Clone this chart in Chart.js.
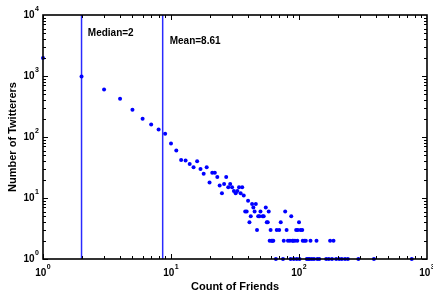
<!DOCTYPE html>
<html>
<head>
<meta charset="utf-8">
<script src="https://cdn.jsdelivr.net/npm/chart.js@4/dist/chart.umd.min.js"></script>
<style>
  html, body { margin: 0; padding: 0; background: #fff; }
  canvas { display: block; }
</style>
</head>
<body>
<canvas id="friendsChart" width="433" height="294"></canvas>
<script>
// Data
const friends = [1, 2, 3, 4, 5, 6, 7, 8, 9, 10, 11, 12, 13, 14, 15, 16, 17, 18, 19, 20, 21, 22, 23, 24,
    25, 26, 27, 28, 29, 30, 31, 32, 33, 34, 35, 36, 37, 38, 39, 40, 41, 42, 43, 44, 45, 46, 47, 48, 49, 50,
    52, 53, 55, 56, 57, 58, 59, 60, 61, 62, 63, 67, 70, 72, 76, 78, 80, 82, 85, 87, 89, 90, 93, 95, 97, 98,
    100, 103, 106, 107, 110, 113, 123, 137, 175, 186,
    66, 75, 86, 91, 96, 101, 115, 118, 121, 126, 131, 139, 144, 163, 171, 181, 195, 206, 216, 229, 241, 291, 385, 760];
const twitterers = [1970, 980, 600, 425, 280, 200, 161, 133, 113, 78, 60, 42, 41, 36, 32, 40, 30, 25, 32, 18, 26, 26, 22, 16,
    12, 17, 22, 15, 17, 15, 13, 12, 13, 15, 12, 15, 11, 6, 6, 9, 4, 5, 8, 7, 6, 8, 3, 5, 5, 6,
    5, 5, 7, 4, 4, 6, 2, 3, 2, 2, 2, 3, 3, 4, 2, 6, 3, 2, 2, 5, 2, 2, 2, 3, 2, 3,
    4, 3, 3, 2, 2, 2, 2, 2, 2, 2,
    1, 1, 1, 1, 1, 1, 1, 1, 1, 1, 1, 1, 1, 1, 1, 1, 1, 1, 1, 1, 1, 1, 1, 1];
const median = 2;
const mean = 8.61;
const xTicks = [1, 10, 100, 1000];
const yTicks = [1, 10, 100, 1000, 10000];

const font = 'Liberation Sans, Arial, Helvetica, sans-serif';
const blue = '#0000ff';
const lineBlue = '#2a2aff';

// "10" with a raised exponent; align 'center' (x axis) or 'right' (y axis)
function powText(ctx, v, px, py, align) {
    const e = Math.round(Math.log10(v));
    ctx.font = 'bold 10px ' + font;
    const wb = ctx.measureText('10').width;
    ctx.font = 'bold 7px ' + font;
    const we = ctx.measureText(String(e)).width;
    const x0 = align === 'right' ? px - wb - we - 0.5 : px - (wb + we + 0.5) / 2;
    ctx.textAlign = 'left';
    ctx.textBaseline = 'middle';
    ctx.font = 'bold 10px ' + font;
    ctx.fillText('10', x0, py);
    ctx.textBaseline = 'alphabetic';
    ctx.font = 'bold 7px ' + font;
    ctx.fillText(String(e), x0 + wb + 0.5, py - 4);
}

// box, inward ticks on all sides, tick labels, annotation texts
const framePlugin = {
    id: 'frame',
    afterDatasetsDraw(chart) {
        const { ctx, chartArea: a, scales: { x, y } } = chart;
        ctx.save();
        ctx.strokeStyle = '#000';
        ctx.lineWidth = 1;
        ctx.beginPath();
        for (let d = 0; d < xTicks.length - 1; d++) {
            for (let m = 1; m <= 9; m++) {
                const px = Math.round(x.getPixelForValue(m * xTicks[d])) + 0.5;
                const len = m === 1 ? 5 : 3;
                ctx.moveTo(px, a.bottom); ctx.lineTo(px, a.bottom - len);
                ctx.moveTo(px, a.top); ctx.lineTo(px, a.top + len);
            }
        }
        for (let d = 0; d < yTicks.length - 1; d++) {
            for (let m = 1; m <= 9; m++) {
                const py = Math.round(y.getPixelForValue(m * yTicks[d])) + 0.5;
                const len = m === 1 ? 5 : 3;
                ctx.moveTo(a.left, py); ctx.lineTo(a.left + len, py);
                ctx.moveTo(a.right, py); ctx.lineTo(a.right - len, py);
            }
        }
        ctx.stroke();
        ctx.lineWidth = 1.6;
        ctx.strokeRect(a.left, a.top, a.right - a.left, a.bottom - a.top);

        ctx.fillStyle = '#000';
        xTicks.forEach(v => powText(ctx, v, x.getPixelForValue(v), a.bottom + 14, 'center'));
        yTicks.forEach(v => powText(ctx, v, a.left - 4, y.getPixelForValue(v), 'right'));

        ctx.font = 'bold 10px ' + font;
        ctx.textAlign = 'left';
        ctx.textBaseline = 'middle';
        ctx.fillText('Median=' + median, x.getPixelForValue(median * 1.12), y.getPixelForValue(5100));
        ctx.fillText('Mean=' + mean, x.getPixelForValue(mean * 1.135), y.getPixelForValue(3650));
        ctx.restore();
    }
};

const ctx = document.getElementById('friendsChart').getContext('2d');
new Chart(ctx, {
    type: 'scatter',
    data: {
        datasets: [
            {
                data: friends.map((f, i) => ({ x: f, y: twitterers[i] })),
                backgroundColor: blue, borderWidth: 0, pointRadius: 2, clip: false
            },
            {
                data: [{ x: median, y: 1 }, { x: median, y: 10000 }],
                showLine: true, borderColor: lineBlue, borderWidth: 1.5, pointRadius: 0
            },
            {
                data: [{ x: mean, y: 1 }, { x: mean, y: 10000 }],
                showLine: true, borderColor: lineBlue, borderWidth: 1.5, pointRadius: 0
            }
        ]
    },
    options: {
        responsive: false,
        animation: false,
        layout: { padding: { top: 15, right: 6, left: 0, bottom: 0 } },
        plugins: { legend: { display: false }, tooltip: { enabled: false } },
        scales: {
            x: {
                type: 'logarithmic', min: xTicks[0], max: xTicks[xTicks.length - 1],
                grid: { display: false, drawTicks: false }, border: { display: false },
                ticks: { display: false },
                title: { display: true, text: 'Count of Friends', color: '#000', padding: { top: 3, bottom: 0 },
                    font: { family: font, size: 11, weight: 'bold' } },
                afterFit: s => { s.height = 35; }
            },
            y: {
                type: 'logarithmic', min: yTicks[0], max: yTicks[yTicks.length - 1],
                grid: { display: false, drawTicks: false }, border: { display: false },
                ticks: { display: false },
                title: { display: true, text: 'Number of Twitterers', color: '#000', padding: { top: 6, bottom: 0 },
                    font: { family: font, size: 11, weight: 'bold' } },
                afterFit: s => { s.width = 43; }
            }
        }
    },
    plugins: [framePlugin]
});
</script>
</body>
</html>
